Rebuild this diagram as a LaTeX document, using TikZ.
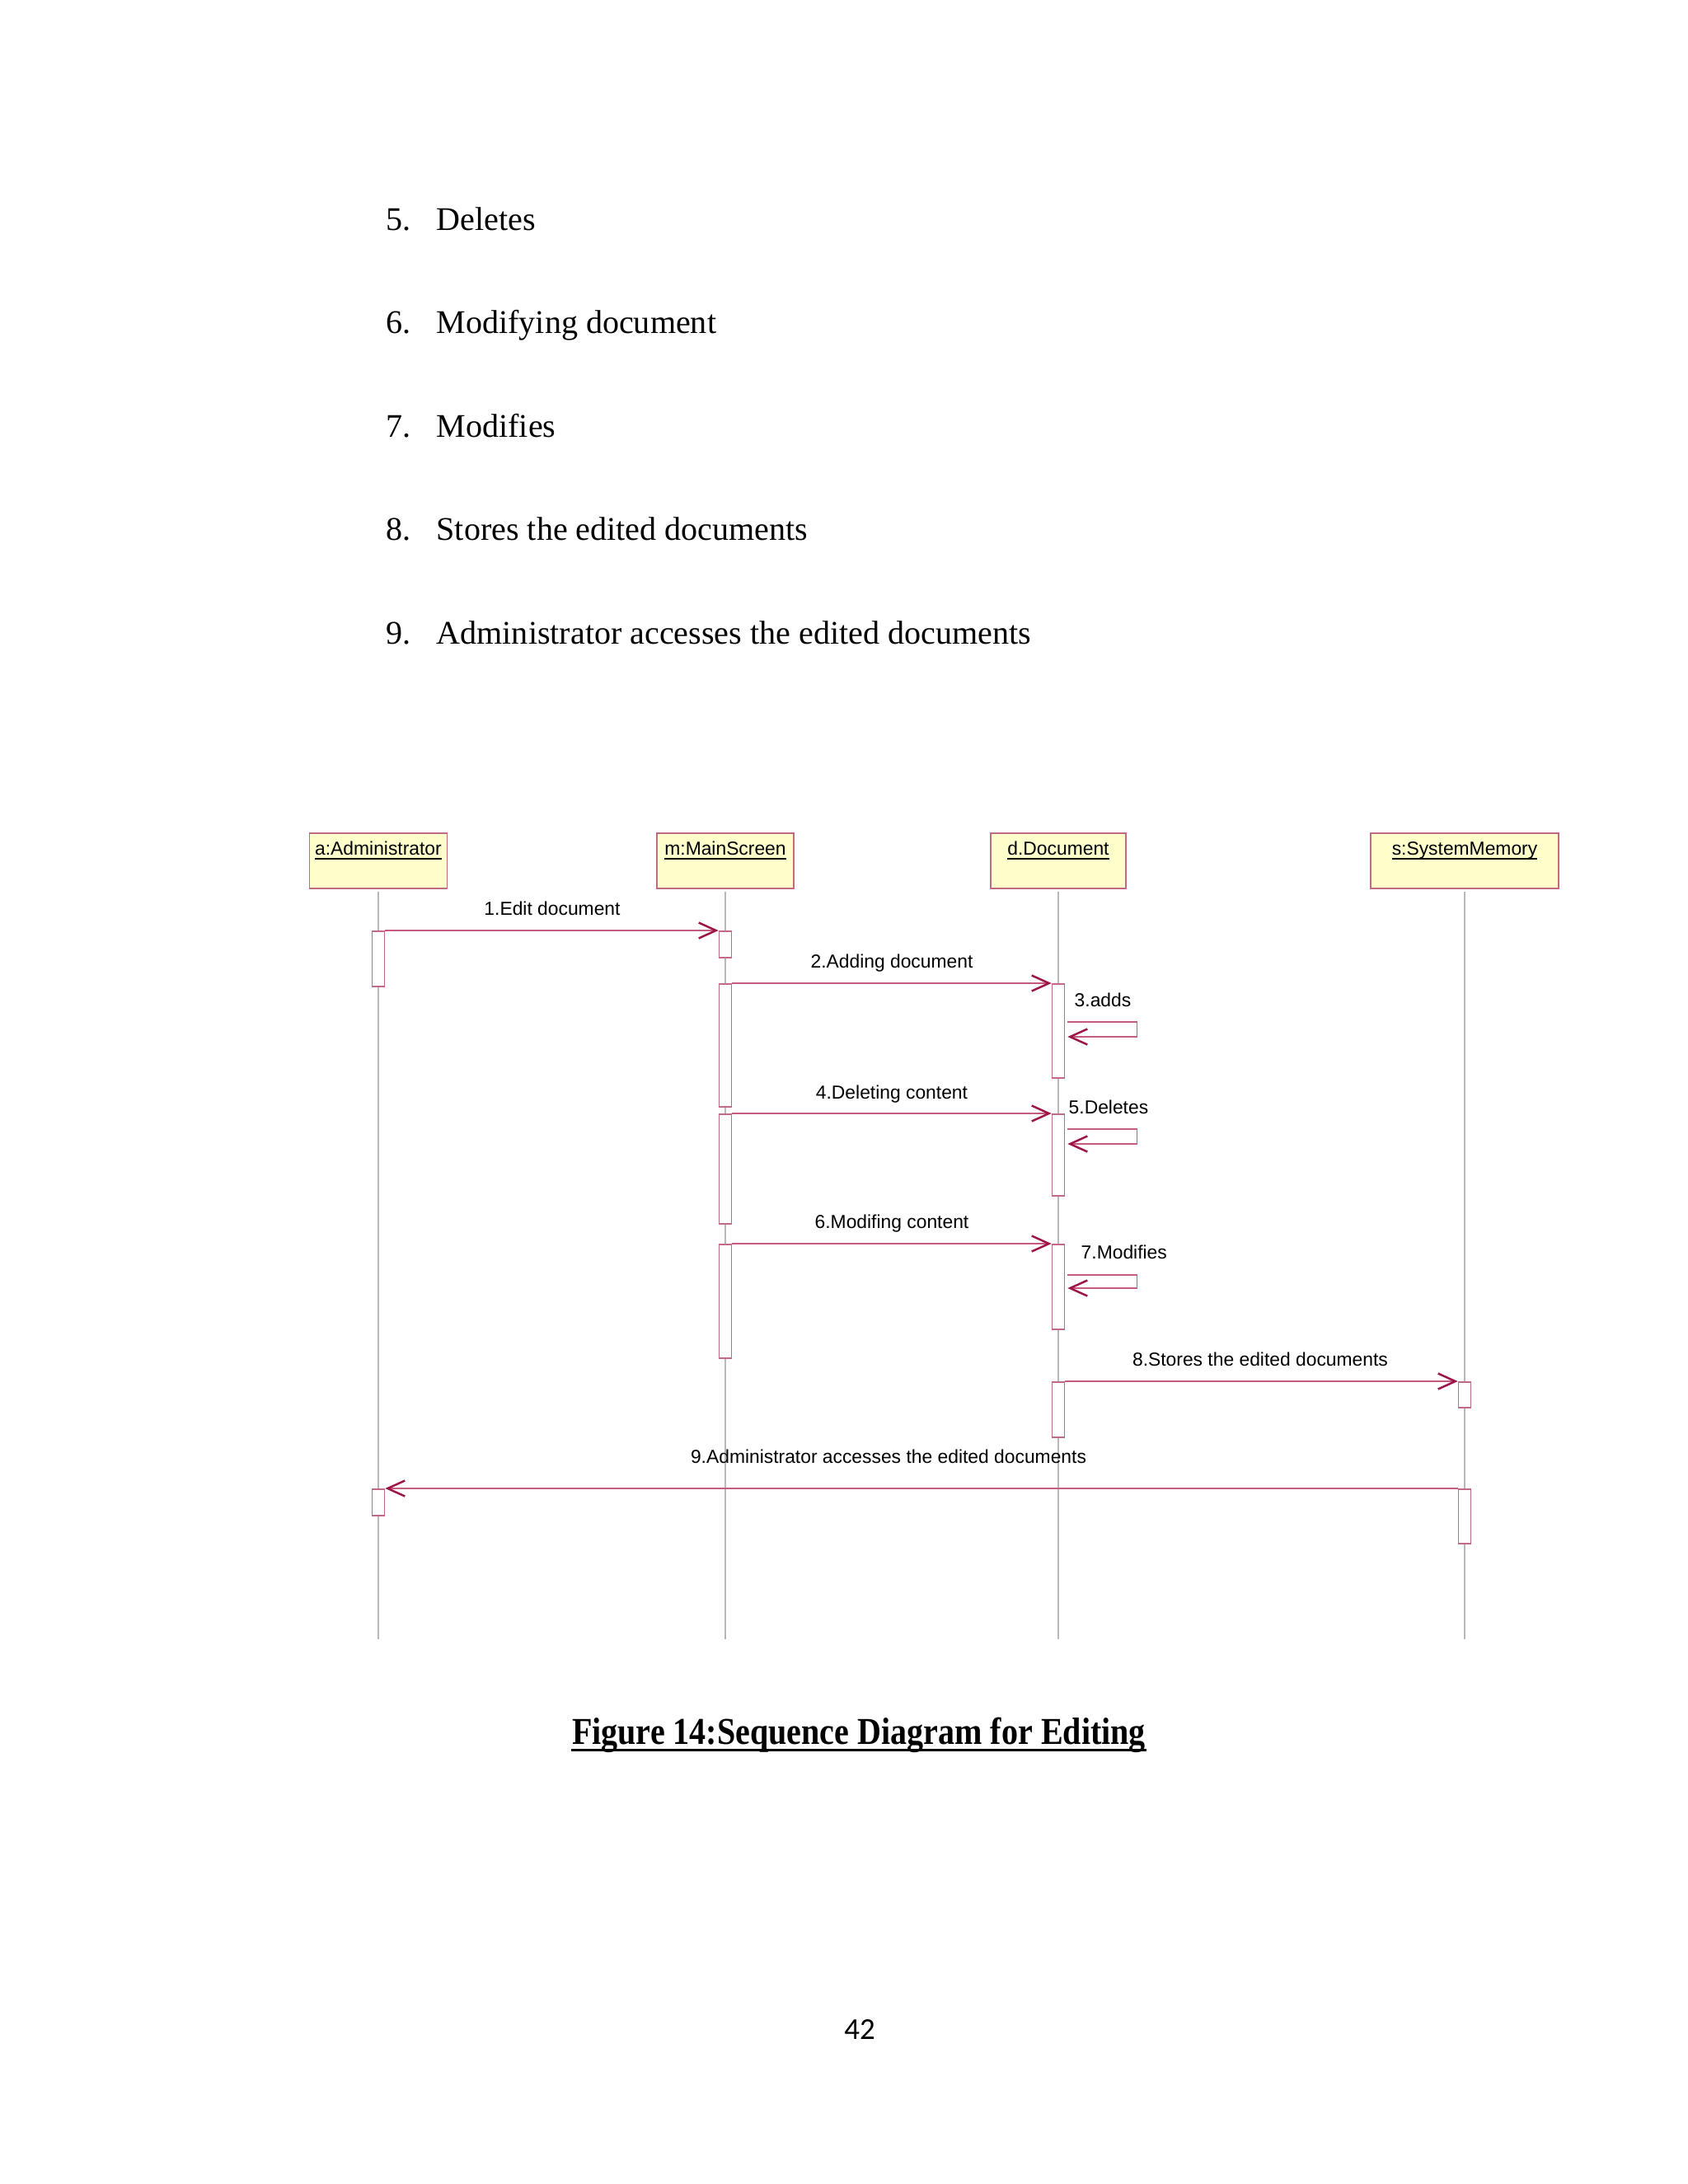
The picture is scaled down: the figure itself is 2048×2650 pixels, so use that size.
\documentclass[tikz,border=0pt]{standalone}
\usepackage{fontspec}
\usepackage{graphicx}
\setmainfont{Liberation Serif}
\newfontfamily\arialf{Liberation Sans}
\newfontfamily\calf{Carlito}
\usetikzlibrary{arrows.meta,calc}
\definecolor{boxfill}{HTML}{FFFFCC}
\definecolor{rosedraw}{HTML}{C06A86}
\definecolor{msgline}{HTML}{C55C80}
\definecolor{tipred}{HTML}{9C1448}
\definecolor{lifegray}{HTML}{B8B8B8}
\begin{document}
\begin{tikzpicture}[x=0.1mm,y=-0.1mm,
  obj/.style={draw=rosedraw, fill=boxfill, line width=0.45pt, minimum width=#1, minimum height=6.7mm, inner sep=0pt, anchor=north},
  objlbl/.style={anchor=base, inner sep=0pt, font=\arialf\fontsize{6.5}{7.5}\selectfont},
  life/.style={draw=lifegray, line width=0.35pt},
  act/.style={draw=rosedraw, fill=white, line width=0.45pt, minimum width=1.5mm, minimum height=#1, inner sep=0pt, anchor=north},
  msg/.style={draw=msgline, line width=0.45pt, -{Straight Barb[length=2.1mm,width=1.9mm,color=tipred,line width=0.7pt]}},
  mlbl/.style={anchor=base, inner sep=0pt, font=\arialf\fontsize{6.5}{7.5}\selectfont},
  slbl/.style={anchor=base west, inner sep=0pt, font=\arialf\fontsize{6.5}{7.5}\selectfont},
  listtxt/.style={anchor=base west, inner sep=0pt, font=\fontsize{11.4}{13}\selectfont}]
\useasboundingbox[fill=white] (0,0) rectangle (2048,2650);

% list text
\node[listtxt] (n5) at (468,279) {5.};
\node[listtxt] (t5) at (529,279) {Deletes};
\node[listtxt] (n6) at (468,404) {6.};
\node[listtxt] (t6) at (529,404) {Modifying document};
\node[listtxt] (n7) at (468,530) {7.};
\node[listtxt] (t7) at (529,530) {Modifies};
\node[listtxt] (n8) at (468,655) {8.};
\node[listtxt] (t8) at (529,655) {Stores the edited documents};
\node[listtxt] (n9) at (468,781) {9.};
\node[listtxt] (t9) at (529,781) {Administrator accesses the edited documents};

% objects
\node[obj=16.7mm] (adm) at (459,1010) {};
\node[obj=16.6mm] (scr) at (880,1010) {};
\node[obj=16.4mm] (doc) at (1284,1010) {};
\node[obj=22.8mm] (mem) at (1777,1010) {};
\node[objlbl] (admL) at (459,1037) {\underline{\smash{a:Administrator}}};
\node[objlbl] (scrL) at (880,1037) {\underline{\smash{m:MainScreen}}};
\node[objlbl] (docL) at (1284,1037) {\underline{\smash{d.Document}}};
\node[objlbl] (memL) at (1777,1037) {\underline{\smash{s:SystemMemory}}};

% lifelines
\coordinate (admEnd) at (459,1989);
\coordinate (scrEnd) at (880,1989);
\coordinate (docEnd) at (1284,1989);
\coordinate (memEnd) at (1777,1989);
\draw[life] ([yshift=-0.3mm]adm.south) -- (admEnd);
\draw[life] ([yshift=-0.3mm]scr.south) -- (scrEnd);
\draw[life] ([yshift=-0.3mm]doc.south) -- (docEnd);
\draw[life] ([yshift=-0.3mm]mem.south) -- (memEnd);

% activations
\node[act=6.7mm]  (a1) at (459,1129) {};
\node[act=3.2mm]  (a2) at (459,1806) {};
\node[act=3.2mm]  (m1) at (880,1129) {};
\node[act=14.9mm] (m2) at (880,1193) {};
\node[act=13.3mm] (m3) at (880,1351) {};
\node[act=13.8mm] (m4) at (880,1509) {};
\node[act=11.4mm] (d1) at (1284,1193) {};
\node[act=9.9mm]  (d2) at (1284,1351) {};
\node[act=10.3mm] (d3) at (1284,1509) {};
\node[act=6.7mm]  (d4) at (1284,1676) {};
\node[act=3.1mm]  (s1) at (1777,1676) {};
\node[act=6.6mm]  (s2) at (1777,1806) {};

% messages
\draw[msg] (a1.north east) -- (m1.north west);
\node[mlbl] (l1) at (670,1110) {1.Edit document};
\draw[msg] (m2.north east) -- (d1.north west);
\node[mlbl] (l2) at (1082,1174) {2.Adding document};
\draw[msg] ($(d1.north east)+(3,47)$) -- ++(84,0) -- ++(0,18) -- ++(-84,0);
\node[slbl] (l3) at (1303,1221) {3.adds};
\draw[msg] (m3.north east) -- (d2.north west);
\node[mlbl] (l4) at (1082,1333) {4.Deleting content};
\draw[msg] ($(d2.north east)+(3,19)$) -- ++(84,0) -- ++(0,18) -- ++(-84,0);
\node[slbl] (l5) at (1296,1351) {5.Deletes};
\draw[msg] (m4.north east) -- (d3.north west);
\node[mlbl] (l6) at (1082,1490) {6.Modifing content};
\draw[msg] ($(d3.north east)+(3,38)$) -- ++(84,0) -- ++(0,16) -- ++(-84,0);
\node[slbl] (l7) at (1311,1527) {7.Modifies};
\draw[msg] (d4.north east) -- (s1.north west);
\node[mlbl] (l8) at (1529,1657) {8.Stores the edited documents};
\draw[msg] (s2.north west) -- (a2.north east);
\node[mlbl] (l9) at (1078,1775) {9.Administrator accesses the edited documents};

% caption
\node[anchor=base, inner sep=0pt, font=\fontsize{11.4}{13}\selectfont\bfseries] (cap) at (1042,2116) {\scalebox{1}[1.15]{Figure 14:Sequence Diagram for Editing}};
\draw[line width=0.85pt] ([yshift=-0.75mm]cap.base west) -- ([yshift=-0.75mm]cap.base east);

% page number
\node[anchor=base, inner sep=0pt, font=\calf\fontsize{10.5}{12}\selectfont] (pg) at (1043,2474) {42};
\end{tikzpicture}
\end{document}
